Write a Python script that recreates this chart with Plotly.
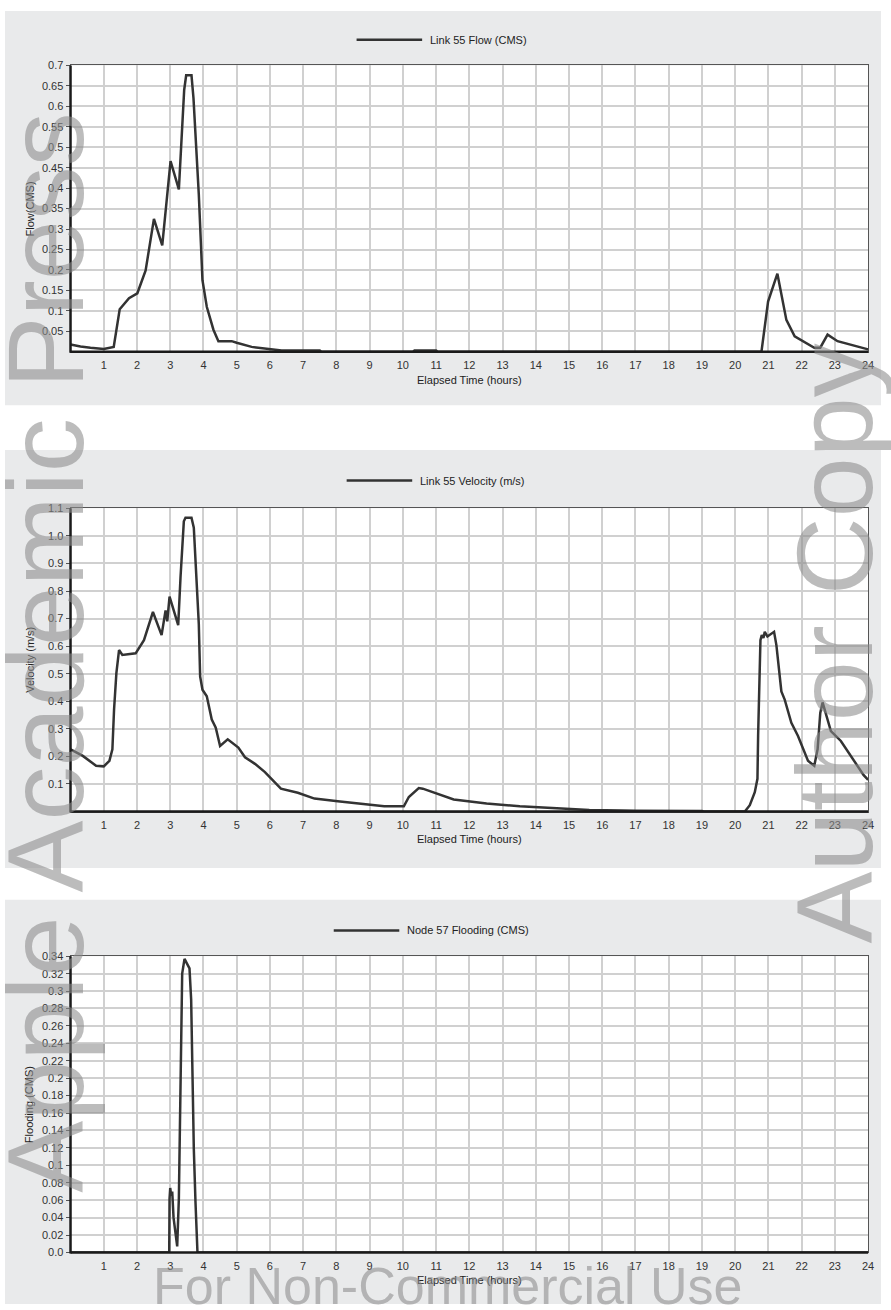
import plotly.graph_objects as go

W, H = 891, 1310

# ---- Link 55 flow (CMS) ----
t_flow = [0, 0.3, 0.6, 1.0, 1.3, 1.48, 1.76, 2.01, 2.26, 2.51, 2.76, 3.01, 3.26,
          3.42, 3.48, 3.64, 3.7, 3.86, 3.97, 4.1, 4.3, 4.45, 4.85, 5.0, 5.45, 6.05,
          6.35, 7.5, 7.55, 10.3, 10.35, 11.0, 11.05, 20.79, 20.99, 21.27, 21.54,
          21.79, 22.38, 22.56, 22.78, 23.08, 24.0]
flow = [0.018, 0.013, 0.010, 0.007, 0.012, 0.104, 0.131, 0.143, 0.199, 0.325, 0.260,
        0.466, 0.397, 0.640, 0.676, 0.676, 0.620, 0.385, 0.175, 0.110, 0.054, 0.026,
        0.026, 0.022, 0.012, 0.007, 0.003, 0.003, 0.0, 0.0, 0.003, 0.003, 0.0, 0.0,
        0.123, 0.191, 0.078, 0.038, 0.010, 0.010, 0.042, 0.026, 0.006]

# ---- Link 55 velocity (m/s) ----
t_vel = [0, 0.37, 0.77, 1.0, 1.17, 1.26, 1.31, 1.38, 1.46, 1.56, 1.96, 2.21, 2.48,
         2.74, 2.86, 2.91, 2.98, 3.1, 3.24, 3.31, 3.41, 3.46, 3.64, 3.71, 3.76, 3.86,
         3.9, 3.97, 4.1, 4.25, 4.37, 4.5, 4.73, 5.05, 5.25, 5.55, 5.85, 6.1, 6.33,
         6.84, 7.34, 8.04, 8.74, 9.44, 10.03, 10.18, 10.48, 10.6, 11.53, 12.52, 13.52,
         14.71, 15.61, 16.6, 17.0, 19.0, 19.05, 20.29, 20.44, 20.59, 20.67, 20.69,
         20.72, 20.76, 20.8, 20.85, 20.89, 20.97, 21.17, 21.24, 21.39, 21.49, 21.69,
         21.89, 22.19, 22.38, 22.48, 22.56, 22.63, 22.88, 23.18, 23.48, 23.86, 24.0]
vel = [0.226, 0.202, 0.166, 0.164, 0.184, 0.226, 0.370, 0.502, 0.586, 0.568, 0.574,
       0.622, 0.724, 0.640, 0.730, 0.690, 0.780, 0.730, 0.676, 0.850, 1.053, 1.066,
       1.066, 1.030, 0.900, 0.680, 0.490, 0.442, 0.418, 0.334, 0.304, 0.238, 0.262,
       0.232, 0.197, 0.173, 0.143, 0.113, 0.083, 0.068, 0.047, 0.037, 0.029, 0.019,
       0.019, 0.053, 0.085, 0.083, 0.044, 0.029, 0.019, 0.011, 0.006, 0.004, 0.003,
       0.002, 0.0, 0.0, 0.023, 0.070, 0.119, 0.274, 0.466, 0.622, 0.640, 0.630, 0.652,
       0.635, 0.652, 0.604, 0.436, 0.406, 0.322, 0.274, 0.184, 0.166, 0.226, 0.358,
       0.396, 0.292, 0.256, 0.202, 0.133, 0.115]

# ---- Node 57 flooding (CMS) ----
t_flood = [0, 2.97, 2.98, 3.0, 3.03, 3.06, 3.1, 3.16, 3.21, 3.26, 3.28, 3.31, 3.33,
           3.36, 3.43, 3.51, 3.58, 3.63, 3.66, 3.68, 3.71, 3.76, 3.8, 3.82, 24.0]
flood = [0, 0, 0.062, 0.074, 0.065, 0.070, 0.040, 0.020, 0.007, 0.062, 0.125, 0.183,
         0.244, 0.320, 0.337, 0.332, 0.326, 0.290, 0.217, 0.180, 0.119, 0.058, 0.0,
         0.0, 0.0]

hour_ticks = list(range(1, 25))
flow_ticks = [round(0.05 * i, 2) for i in range(1, 15)]
flow_text = ["0.05", "0.1", "0.15", "0.2", "0.25", "0.3", "0.35", "0.4", "0.45",
             "0.5", "0.55", "0.6", "0.65", "0.7"]
vel_ticks = [round(0.1 * i, 1) for i in range(1, 12)]
vel_text = ["0.1", "0.2", "0.3", "0.4", "0.5", "0.6", "0.7", "0.8", "0.9", "1.0", "1.1"]
flood_ticks = [round(0.02 * i, 2) for i in range(0, 18)]
flood_text = ["0.0", "0.02", "0.04", "0.06", "0.08", "0.1", "0.12", "0.14", "0.16",
              "0.18", "0.2", "0.22", "0.24", "0.26", "0.28", "0.3", "0.32", "0.34"]

panels = [
    dict(t=t_flow, v=flow, yr=[0, 0.7], tv=flow_ticks, tt=flow_text,
         legend="Link 55 Flow (CMS)", ytitle="Flow(CMS)",
         bg=(5, 403), plot=(60, 349), leg_x=359, leg_y=34),
    dict(t=t_vel, v=vel, yr=[0, 1.1], tv=vel_ticks, tt=vel_text,
         legend="Link 55 Velocity (m/s)", ytitle="Velocity (m/s)",
         bg=(448, 870), plot=(507, 813), leg_x=349, leg_y=479),
    dict(t=t_flood, v=flood, yr=[0, 0.34], tv=flood_ticks, tt=flood_text,
         legend="Node 57 Flooding (CMS)", ytitle="Flooding (CMS)",
         bg=(902, 1310), plot=(959, 1258), leg_x=336, leg_y=933),
]

X0, X1 = 71, 874          # plot area left/right in pixels
BG_X0, BG_X1 = 5, 887


def px(x):
    return x / W


def py(y):
    return 1 - y / H


FONT = "Liberation Sans, Arial, sans-serif"
LINE_COLOR = "#333333"
GRID = "#d0d0d0"

fig = go.Figure()
shapes = []
annotations = []
layout_axes = {}

for i, p in enumerate(panels, start=1):
    xa = "x" if i == 1 else f"x{i}"
    ya = "y" if i == 1 else f"y{i}"
    top, bot = p["plot"]

    fig.add_trace(go.Scatter(x=p["t"], y=p["v"], mode="lines", xaxis=xa, yaxis=ya,
                             line=dict(color=LINE_COLOR, width=2.5),
                             showlegend=False, hoverinfo="x+y"))

    layout_axes["xaxis" if i == 1 else f"xaxis{i}"] = dict(
        domain=[px(X0), px(X1)], anchor=ya, range=[0, 24],
        tickvals=hour_ticks, ticktext=[str(h) for h in hour_ticks],
        showgrid=True, gridcolor=GRID, gridwidth=2, zeroline=False,
        showline=True, mirror=True, linecolor="#555555", linewidth=1,
        ticks="", ticklabelstandoff=3,
        tickfont=dict(family=FONT, size=11, color="#333333"), fixedrange=True)
    layout_axes["yaxis" if i == 1 else f"yaxis{i}"] = dict(
        domain=[py(bot), py(top)], anchor=xa, range=p["yr"],
        tickvals=p["tv"], ticktext=p["tt"],
        showgrid=True, gridcolor=GRID, gridwidth=2, zeroline=False,
        showline=True, mirror=True, linecolor="#555555", linewidth=1,
        ticks="outside", ticklen=4, tickcolor="#555555", tickwidth=1,
        tickfont=dict(family=FONT, size=11, color="#333333"), fixedrange=True)

    # grey panel and white plotting area
    shapes.append(dict(type="rect", xref="paper", yref="paper", layer="below",
                       x0=px(BG_X0), x1=px(BG_X1), y0=py(p["bg"][1]), y1=py(p["bg"][0]),
                       fillcolor="#e9eaeb", line=dict(width=0)))
    shapes.append(dict(type="rect", xref="paper", yref="paper", layer="below",
                       x0=px(X0), x1=px(X1), y0=py(bot), y1=py(top),
                       fillcolor="white", line=dict(width=0)))
    # heavy left and bottom axis lines
    shapes.append(dict(type="line", xref="paper", yref="paper", layer="above",
                       x0=px(X0), x1=px(X0), y0=py(bot + 1), y1=py(top),
                       line=dict(color="#1a1a1a", width=2.5)))
    shapes.append(dict(type="line", xref="paper", yref="paper", layer="above",
                       x0=px(X0), x1=px(X1), y0=py(bot), y1=py(bot),
                       line=dict(color="#1a1a1a", width=2.5)))
    # legend sample line and label
    shapes.append(dict(type="line", xref="paper", yref="paper", layer="above",
                       x0=px(p["leg_x"]), x1=px(p["leg_x"] + 66),
                       y0=py(p["leg_y"]), y1=py(p["leg_y"]),
                       line=dict(color=LINE_COLOR, width=2.5)))
    annotations.append(dict(xref="paper", yref="paper", x=px(p["leg_x"] + 72),
                            y=py(p["leg_y"]), xanchor="left", yanchor="middle",
                            text=p["legend"], showarrow=False,
                            font=dict(family=FONT, size=11, color="#222222")))
    # axis titles
    annotations.append(dict(xref="paper", yref="paper", x=px(30), y=py((top + bot) / 2),
                            xanchor="center", yanchor="middle", textangle=-90,
                            text=p["ytitle"], showarrow=False,
                            font=dict(family=FONT, size=11, color="#222222")))
    annotations.append(dict(xref="paper", yref="paper", x=px((X0 + X1) / 2),
                            y=py(bot + 28), xanchor="center", yanchor="middle",
                            text="Elapsed Time (hours)", showarrow=False,
                            font=dict(family=FONT, size=11, color="#222222")))

# publisher marks
MARK = "rgba(140,140,140,0.58)"
annotations.append(dict(xref="paper", yref="paper", x=px(45), y=py(652),
                        xanchor="center", yanchor="middle", textangle=-90,
                        text="Apple Academic Press", showarrow=False,
                        font=dict(family=FONT, size=108, color=MARK)))
annotations.append(dict(xref="paper", yref="paper", x=px(840), y=py(643),
                        xanchor="center", yanchor="middle", textangle=-90,
                        text="Author Copy", showarrow=False,
                        font=dict(family=FONT, size=108, color=MARK)))
annotations.append(dict(xref="paper", yref="paper", x=px(451), y=py(1292),
                        xanchor="center", yanchor="middle",
                        text="For Non-Commercial Use", showarrow=False,
                        font=dict(family=FONT, size=52, color=MARK)))

fig.update_layout(
    width=W, height=H, margin=dict(l=0, r=0, t=0, b=0),
    paper_bgcolor="white", plot_bgcolor="white",
    showlegend=False, shapes=shapes, annotations=annotations,
    font=dict(family=FONT, size=11, color="#333333"),
    **layout_axes,
)

fig.write_html("out.html")
